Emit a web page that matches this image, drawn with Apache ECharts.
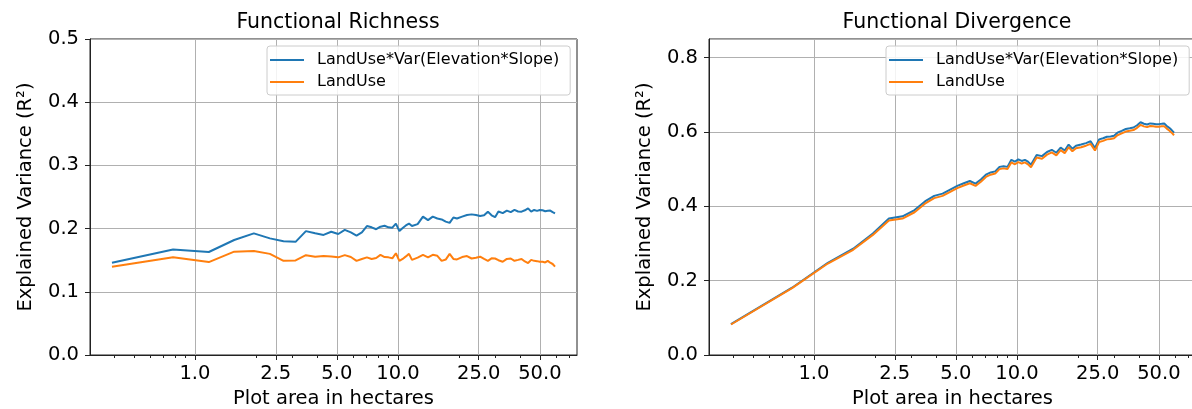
<!DOCTYPE html>
<html>
<head>
<meta charset="utf-8">
<script src="https://cdn.jsdelivr.net/npm/echarts@6/dist/echarts.min.js"></script>
<style>
  html, body { margin: 0; padding: 0; background: #fff; }
  #chart { width: 1192px; height: 409px; }
</style>
</head>
<body>
<div id="chart"></div>
<script>
// plot area in hectares (shared by all series)
const areas = [0.39, 0.78, 1.17, 1.56, 1.95, 2.34, 2.73, 3.13, 3.52, 3.91, 4.3, 4.69, 5.08, 5.47, 5.86,
  6.25, 6.64, 7.03, 7.42, 7.81, 8.2, 8.59, 8.98, 9.38, 9.77, 10.16, 10.55, 10.94, 11.33, 11.72,
  12.5, 13.28, 14.06, 14.84, 15.63, 16.41, 17.19, 17.97, 18.75, 19.53, 20.7, 21.88, 23.05, 24.22,
  25.39, 26.56, 27.73, 28.91, 30.08, 31.25, 32.81, 34.38, 35.94, 37.5, 39.06, 40.63, 42.19, 43.75,
  45.31, 46.88, 48.44, 50.0, 51.56, 53.13, 54.69, 56.25, 57.81, 59.38]

// Functional Richness
const richVar = [0.146, 0.167, 0.163, 0.182, 0.1925, 0.1845, 0.180, 0.179, 0.196, 0.1925, 0.190, 0.195, 0.1915, 0.198, 0.194,
  0.189, 0.194, 0.204, 0.202, 0.199, 0.203, 0.2045, 0.202, 0.2015, 0.208, 0.196, 0.201, 0.205, 0.208, 0.204,
  0.207, 0.219, 0.2135, 0.219, 0.216, 0.2145, 0.211, 0.209, 0.2175, 0.216, 0.219, 0.2215, 0.2225, 0.2215,
  0.220, 0.221, 0.2268, 0.221, 0.218, 0.227, 0.2245, 0.2284, 0.226, 0.2295, 0.227, 0.2268, 0.229, 0.232,
  0.2268, 0.2295, 0.228, 0.2295, 0.229, 0.2275, 0.2284, 0.2285, 0.226, 0.224]
const richLand = [0.1397, 0.1545, 0.147, 0.1635, 0.1645, 0.160, 0.149, 0.1497, 0.158, 0.1555, 0.1565, 0.156, 0.1545, 0.158, 0.155,
  0.149, 0.152, 0.1545, 0.152, 0.1535, 0.1585, 0.155, 0.1545, 0.153, 0.161, 0.149, 0.152, 0.156, 0.160, 0.1505,
  0.154, 0.1585, 0.1545, 0.1585, 0.157, 0.149, 0.151, 0.160, 0.152, 0.1512, 0.155, 0.1565, 0.1527, 0.154,
  0.1555, 0.152, 0.149, 0.153, 0.1527, 0.150, 0.1475, 0.152, 0.1527, 0.149, 0.1505, 0.152, 0.148, 0.1455,
  0.1505, 0.149, 0.1485, 0.1475, 0.1475, 0.1465, 0.149, 0.146, 0.144, 0.1397]

// Functional Divergence
const divVar = [0.083, 0.181, 0.248, 0.286, 0.327, 0.367, 0.373, 0.390, 0.413, 0.428, 0.434, 0.445, 0.455, 0.462, 0.468,
  0.461, 0.472, 0.485, 0.491, 0.494, 0.506, 0.508, 0.506, 0.525, 0.520, 0.526, 0.522, 0.525, 0.520, 0.512,
  0.538, 0.535, 0.546, 0.552, 0.544, 0.558, 0.550, 0.566, 0.555, 0.563, 0.566, 0.570, 0.575, 0.557,
  0.580, 0.583, 0.587, 0.588, 0.590, 0.598, 0.603, 0.608, 0.610, 0.612, 0.618, 0.626, 0.622, 0.620,
  0.623, 0.622, 0.621, 0.621, 0.622, 0.623, 0.616, 0.611, 0.605, 0.598]
const divLand = [0.082, 0.180, 0.246, 0.283, 0.323, 0.362, 0.367, 0.384, 0.407, 0.422, 0.428, 0.439, 0.449, 0.456, 0.462,
  0.455, 0.466, 0.479, 0.485, 0.488, 0.500, 0.502, 0.500, 0.518, 0.513, 0.519, 0.515, 0.518, 0.513, 0.505,
  0.531, 0.528, 0.539, 0.545, 0.537, 0.551, 0.543, 0.559, 0.548, 0.556, 0.559, 0.563, 0.568, 0.550,
  0.573, 0.576, 0.580, 0.581, 0.583, 0.591, 0.596, 0.601, 0.603, 0.605, 0.611, 0.619, 0.615, 0.613,
  0.616, 0.615, 0.614, 0.614, 0.615, 0.615, 0.609, 0.604, 0.598, 0.591]

const xTicks = [1, 2.5, 5, 10, 25, 50]
const xMinorTicks = [0.4, 0.5, 0.6, 0.7, 0.8, 0.9, 2, 3, 4, 6, 7, 8, 9, 20, 30, 40, 60, 70]
const names = ['LandUse*Var(Elevation*Slope)', 'LandUse']
const titles = ['Functional Richness', 'Functional Divergence']

const FONT = 'DejaVu Sans'
const pair = (ys) => areas.map((a, i) => [a, ys[i]])

const myChart = echarts.init(document.getElementById('chart'))

function mainX (gi) {
  return {
    type: 'log', gridIndex: gi, min: 0.304, max: 76.2,
    name: 'Plot area in hectares', nameLocation: 'middle', nameGap: 31,
    nameTextStyle: { fontFamily: FONT, fontSize: 19.5, color: '#000' },
    axisLine: { lineStyle: { color: '#222' } },
    axisTick: { customValues: xTicks, length: 5, lineStyle: { color: '#222' } },
    axisLabel: {
      customValues: xTicks, fontFamily: FONT, fontSize: 19.5, color: '#000', margin: 9,
      formatter: v => Number(v).toFixed(1)
    },
    splitLine: { show: true, lineStyle: { color: '#b0b0b0', width: 1 } }
  }
}
function minorX (gi) {
  return {
    type: 'log', gridIndex: gi, min: 0.304, max: 76.2, position: 'bottom',
    axisLine: { show: false },
    axisTick: { customValues: xMinorTicks, length: 3, lineStyle: { color: '#222' } },
    axisLabel: { show: false },
    splitLine: { show: false }
  }
}
function yAx (gi, max, step) {
  return {
    type: 'value', gridIndex: gi, min: 0, max: max, interval: step,
    name: 'Explained Variance (R²)', nameLocation: 'middle', nameGap: 54,
    nameTextStyle: { fontFamily: FONT, fontSize: 19.5, color: '#000' },
    axisLine: { show: true, lineStyle: { color: '#222' } },
    axisTick: { show: true, length: 5, lineStyle: { color: '#222' } },
    axisLabel: { fontFamily: FONT, fontSize: 19.5, color: '#000', margin: 11, showMaxLabel: gi === 0,
      formatter: v => Number(v).toFixed(1) },
    splitLine: { show: true, lineStyle: { color: '#b0b0b0', width: 1 } }
  }
}
function legendFor (left) {
  return {
    orient: 'vertical', left: left, top: 46,
    data: names, icon: 'rect', itemWidth: 34, itemHeight: 2, itemGap: 6,
    padding: [6, 11, 5, 3],
    backgroundColor: 'rgba(255,255,255,0.85)', borderColor: '#ccc', borderWidth: 1, borderRadius: 3,
    textStyle: { fontFamily: FONT, fontSize: 16, color: '#000', lineHeight: 16, padding: [0, 0, 0, 8] }
  }
}
function line (name, xi, yi, ys, color) {
  return {
    name: name, type: 'line', xAxisIndex: xi, yAxisIndex: yi, data: pair(ys),
    showSymbol: false, symbol: 'none', animation: false,
    lineStyle: { color: color, width: 2 }, itemStyle: { color: color }
  }
}

const option = {
  backgroundColor: '#fff',
  animation: false,
  title: [
    { text: titles[0], left: 333, top: 7, textAlign: 'center', textStyle: { fontFamily: FONT, fontSize: 20.5, fontWeight: 'normal', color: '#000' } },
    { text: titles[1], left: 952, top: 7, textAlign: 'center', textStyle: { fontFamily: FONT, fontSize: 20.5, fontWeight: 'normal', color: '#000' } }
  ],
  legend: [legendFor(267), legendFor(886)],
  grid: [
    { left: 90, right: 615, top: 39, bottom: 54, show: true, borderColor: '#222', borderWidth: 1, outerBoundsMode: 'none' },
    { left: 709, right: -4, top: 39, bottom: 54, show: true, borderColor: '#222', borderWidth: 1, outerBoundsMode: 'none' }
  ],
  xAxis: [mainX(0), mainX(1), minorX(0), minorX(1)],
  yAxis: [yAx(0, 0.5, 0.1), yAx(1, 0.85, 0.2)],
  series: [
    line(names[0], 0, 0, richVar, '#1f77b4'),
    line(names[1], 0, 0, richLand, '#ff7f0e'),
    line(names[0], 1, 1, divVar, '#1f77b4'),
    line(names[1], 1, 1, divLand, '#ff7f0e')
  ]
}
myChart.setOption(option)
window.addEventListener('resize', function () { myChart.resize() })
</script>
</body>
</html>
